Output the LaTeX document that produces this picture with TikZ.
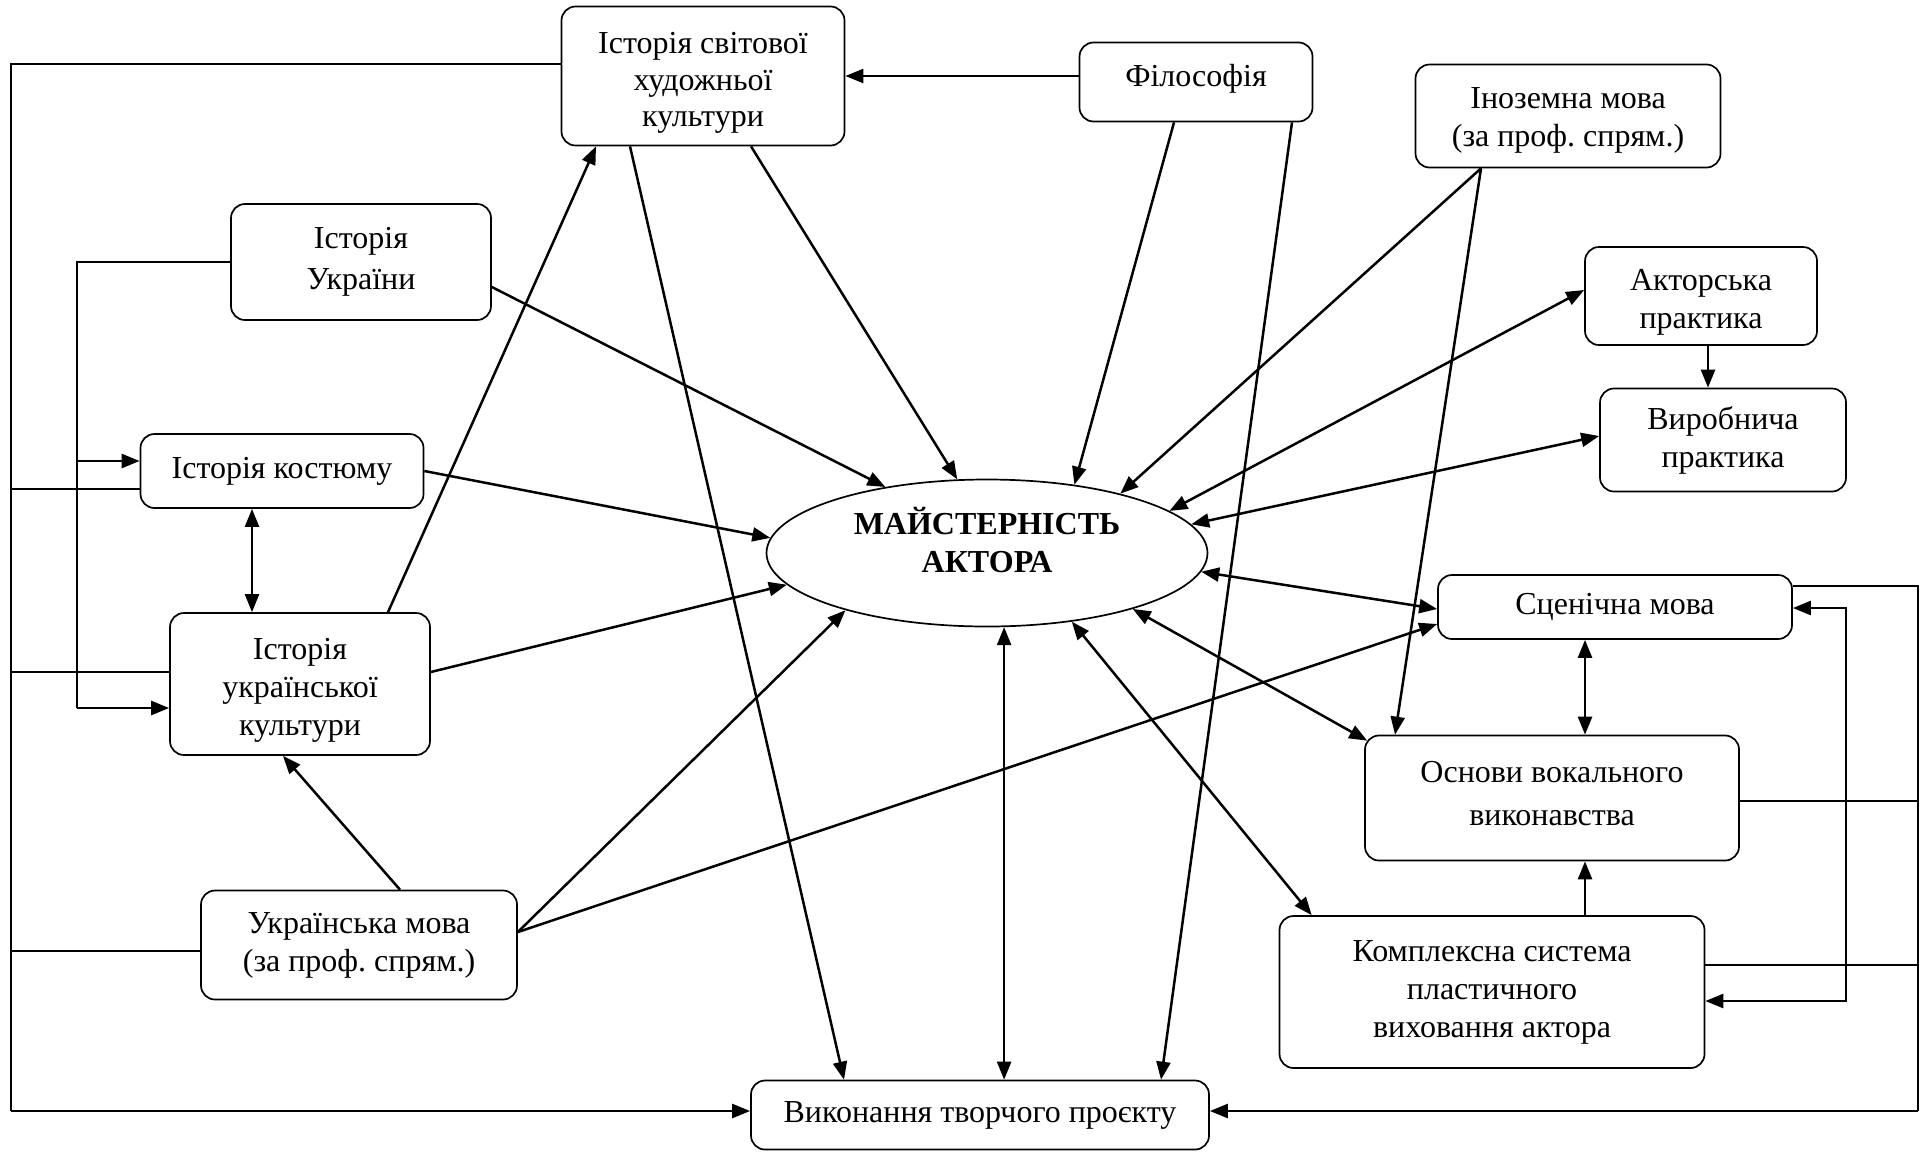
\documentclass[tikz,border=0pt]{standalone}
\usepackage{fontspec}
\setmainfont{Liberation Serif}
\usetikzlibrary{arrows.meta,calc,shapes.geometric}
\frenchspacing
\begin{document}
\begin{tikzpicture}[x=0.5pt,y=-0.5pt,
  >={Triangle[length=9pt,width=7pt]},
  box/.style={draw, rounded corners=7pt, align=center, inner sep=0pt, line width=0.85pt, font=\fontsize{16}{19}\selectfont},
  arr/.style={->, line width=1.25pt},
  arrb/.style={<->, line width=1.25pt},
  ln/.style={line width=0.95pt}]
\useasboundingbox (0,0) rectangle (1930,1152);

\node[box, minimum width=141.5pt, minimum height=69.5pt, font=\fontsize{16}{18.2}\selectfont] (svit) at (703,76) {\rule{0pt}{17.5pt}Історія світової\\художньої\\культури};
\node[box, minimum width=116.5pt, minimum height=39.5pt] (filos) at (1196,82) {Філософія\rule[-7pt]{0pt}{0pt}};
\node[box, minimum width=152.5pt, minimum height=51.5pt] (inoz) at (1568,116) {\rule{0pt}{14.5pt}Іноземна мова\\(за проф. спрям.)};
\node[box, minimum width=130pt, minimum height=58pt, font=\fontsize{16}{20.5}\selectfont] (istukr) at (361,262) {Історія\\України};
\node[box, minimum width=116pt, minimum height=49pt] (aktp) at (1701,296) {\rule{0pt}{17pt}Акторська\\практика};
\node[box, minimum width=123pt, minimum height=51.5pt] (vyrob) at (1723,440) {Виробнича\\практика};
\node[box, minimum width=141.5pt, minimum height=37pt] (kost) at (282,471) {Історія костюму};
\node[box, minimum width=130pt, minimum height=71pt] (ukult) at (300,684) {\rule{0pt}{17pt}Історія\\української\\культури};
\node[box, minimum width=177pt, minimum height=32pt] (scen) at (1615,607) {Сценічна мова};
\node[box, minimum width=187pt, minimum height=62.5pt, font=\fontsize{16}{21.5}\selectfont] (osn) at (1552,798) {Основи вокального\\виконавства\rule[-5pt]{0pt}{0pt}};
\node[box, minimum width=158pt, minimum height=54.5pt] (umova) at (359,945) {Українська мова\\(за проф. спрям.)};
\node[box, minimum width=212.5pt, minimum height=76pt] (kompl) at (1492,992) {Комплексна система\\пластичного\\виховання актора};
\node[box, minimum width=229pt, minimum height=34.5pt] (vyk) at (980,1115) {Виконання творчого проєкту};
\node[ellipse, draw, line width=0.85pt, minimum width=220.5pt, minimum height=73.5pt, inner sep=0pt,
  label={[font=\fontsize{16}{19}\selectfont\bfseries, align=center, yshift=6.7pt]center:МАЙСТЕРНІСТЬ\\АКТОРА}] (M) at (987,553) {};

% left frame
\coordinate (lb) at (11,1111);
\draw[ln] ($(svit.west)+(0,-12)$) -| (lb);
\draw[arr] (lb) -- (vyk.west |- lb);
\coordinate (kL) at ($(kost.west)+(0,18)$);
\draw[ln] (kL) -- (lb |- kL);
\coordinate (uL) at ($(ukult.west)+(0,-12)$);
\draw[ln] (uL) -- (lb |- uL);
\coordinate (mL) at ($(umova.west)+(0,6)$);
\draw[ln] (mL) -- (lb |- mL);
% inner left
\coordinate (ib) at (77,708);
\coordinate (ik) at (77,461);
\draw[ln] (istukr.west) -| (ib);
\draw[arr] (ib) -- (ukult.west |- ib);
\draw[arr] (ik) -- (kost.west |- ik);

% right frame
\coordinate (rb) at (1918,1111);
\draw[ln] ($(scen.east)+(0,-21)$) -| (rb);
\draw[arr] (rb) -- (vyk.east |- rb);
\coordinate (oR) at ($(osn.east)+(0,3)$);
\draw[ln] (oR) -- (rb |- oR);
\coordinate (kR) at ($(kompl.east)+(0,-27)$);
\draw[ln] (kR) -- (rb |- kR);
% inner right
\coordinate (ri) at (1846,1001);
\draw[arrb] ($(scen.east)+(0,1)$) -| (ri) -- (kompl.east |- ri);

% links
\draw[arr] ($(svit.south)+(48,0)$) -- (M.112.6);
\draw[arr] ($(svit.south)+(-73,0)$) -- ($(vyk.north)+(-136,0)$);
\draw[arr] ($(ukult.north)+(88,0)$) -- ($(svit.south)+(-107,0)$);
\draw[arr] (filos.west |- svit.east) -- (svit.east);
\draw[arr] ($(filos.south)+(-22,0)$) -- (M.38.7);
\draw[arr] ($(filos.south)+(96,0)$) -- ($(vyk.north)+(181,0)$);
\draw[arr] ($(inoz.south)+(-87,0)$) -- (M.24);
\draw[arr] ($(inoz.south)+(-87,0)$) -- ($(osn.north)+(-157,0)$);
\draw[arrb] (M.13) -- ($(aktp.west)+(0,-6)$);
\draw[arrb] (M.8.8) -- ($(vyrob.west)+(0,-4)$);
\draw[arrb] (M.-5.7) -- ($(scen.west)+(0,2)$);
\draw[arrb] (M.-21.8) -- ($(osn.north west)+(3,6)$);
\draw[arrb] (M.-39.7) -- ($(kompl.north west)+(33,0)$);
\coordinate (Mb) at (M.-77.6);
\draw[arrb] (Mb) -- (vyk.north -| Mb);
\draw[arr] ($(istukr.east)+(0,25)$) -- (M.147.9);
\draw[arr] (kost.east) -- (M.176.3);
\draw[arr] ($(ukult.east)+(0,-12)$) -- (M.189.1);
\draw[arr] ($(umova.east)+(0,-13)$) -- (M.202.7);
\draw[arr] ($(umova.east)+(0,-13)$) -- ($(scen.west)+(0,17)$);
\draw[arr] ($(umova.north)+(41,0)$) -- ($(ukult.south)+(-17,0)$);
\draw[arrb] ($(kost.south)+(-30,0)$) -- ($(ukult.north)+(-48,0)$);
\draw[arr] ($(aktp.south)+(7,0)$) -- ($(vyrob.north)+(-15,0)$);
\draw[arrb] ($(scen.south)+(-30,0)$) -- ($(osn.north)+(33,0)$);
\draw[arr] ($(kompl.north)+(93,0)$) -- ($(osn.south)+(33,0)$);
\end{tikzpicture}
\end{document}
